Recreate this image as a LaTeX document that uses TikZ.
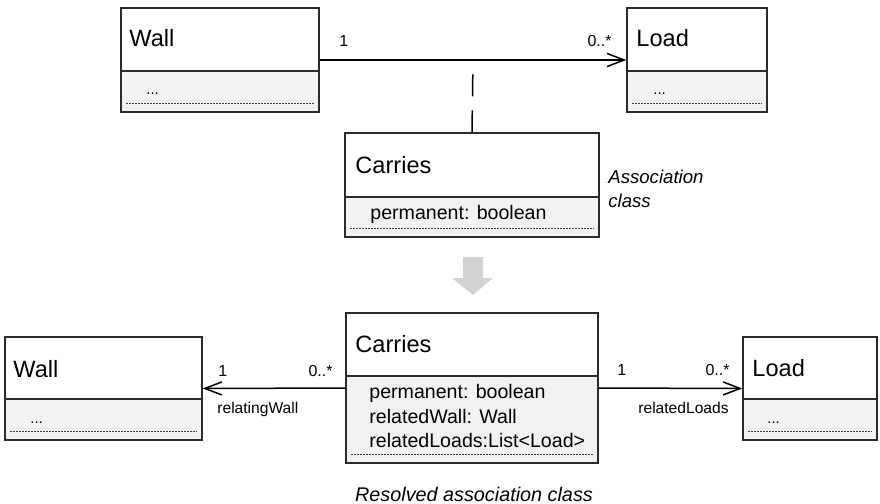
\documentclass[tikz,border=0pt]{standalone}
\usepackage{fontspec}
\setmainfont{Liberation Sans}
\usetikzlibrary{arrows.meta,fit,calc}

\definecolor{edge}{HTML}{2B2B2B}
\definecolor{attrfill}{HTML}{F2F2F2}
\definecolor{blockgray}{HTML}{D3D3D3}

\tikzset{
  boxline/.style={draw=edge, line width=0.75pt},
  classbox/.style={boxline, inner sep=0pt, fit={#1}},
  dotrule/.style={draw=black!75, line width=0.5pt, dash pattern=on 1pt off 0.5pt},
  assoc/.style={draw=black, line width=0.75pt},
  navtip/.style={-{Straight Barb[length=8.5pt,width=6.5pt]}},
  txt/.style={inner sep=0pt, anchor=base west},
  clsname/.style={txt, font=\fontsize{11.8}{14}\selectfont},
  attr/.style={txt, font=\fontsize{9.8}{12}\selectfont},
  dots/.style={txt, font=\fontsize{7.5}{9}\selectfont},
  mult/.style={inner sep=0pt, font=\fontsize{8}{10}\selectfont},
  role/.style={inner sep=0pt, font=\fontsize{7.8}{10}\selectfont},
  note/.style={inner sep=0pt, font=\itshape\fontsize{9.3}{12}\selectfont},
}

% UML class: name, left, top, right, bottom, compartment divider
\newcommand{\umlclass}[6]{%
  \fill[white] (#2,#3) rectangle (#4,#6);
  \fill[attrfill] (#2,#6) rectangle (#4,#5);
  \draw[boxline] (#2,#6) -- (#4,#6);
  \draw[dotrule] (#2+5,#5-9) -- (#4-5,#5-9);
  \node[classbox={(#2,#3) (#4,#5)}] (#1) {};
}

\begin{document}
\begin{tikzpicture}[x=0.5pt, y=-0.5pt]
\useasboundingbox (0,0) rectangle (880,504);

% ---------- association with association class ----------
\umlclass{wallA}{121}{8}{319}{112}{71}
\umlclass{loadA}{627}{8}{767}{112}{71}
\umlclass{carriesA}{345}{133}{599}{237}{197}

\node[clsname] (wallAname) at (129,46.5) {Wall};
\node[dots] (wallAattr) at (146,94) {...};
\node[clsname] (loadAname) at (636,46.5) {Load};
\node[dots] (loadAattr) at (653,94) {...};
\node[clsname] (carriesAname) at (355,173) {Carries};
\node[attr] (carriesAattr) at (370,219) {permanent: boolean};

\draw[assoc, navtip] (wallA.east) -- (loadA.west);
\draw[assoc, dash pattern=on 11pt off 7pt]
  (carriesA.north) -- ($(wallA.east)!0.5!(loadA.west)$);
\node[mult, anchor=base west] (multA1) at (339,46) {1};
\node[mult, anchor=base east] (multA2) at (612,46) {0..*};

\node[note, anchor=base west] (noteA1) at (608,183) {Association};
\node[note, anchor=base west] (noteA2) at (608,207) {class};

% ---------- transformation arrow ----------
\fill[blockgray] (463,257) -- (483,257) -- (483,278) -- (493,278)
  -- (473,295) -- (452,278) -- (463,278) -- cycle;

% ---------- resolved association class ----------
\umlclass{wallB}{5}{337}{202}{440}{399}
\umlclass{loadB}{743}{337}{877}{440}{399}
\umlclass{carriesB}{346}{313}{598}{463}{376}

\node[clsname] (wallBname) at (13,377) {Wall};
\node[dots] (wallBattr) at (30,423) {...};
\node[clsname] (loadBname) at (752,376) {Load};
\node[dots] (loadBattr) at (767,423) {...};
\node[clsname] (carriesBname) at (355,352) {Carries};
\node[attr] (carriesBattr1) at (369,398) {permanent: boolean};
\node[attr] (carriesBattr2) at (369,423) {relatedWall: Wall};
\node[attr] (carriesBattr3) at (369,447) {relatedLoads:List<Load>};

\draw[assoc, navtip] (carriesB.west) -- (wallB.east);
\draw[assoc, navtip] (carriesB.east) -- (loadB.west);

\node[mult, anchor=base west] (multB1) at (218,376) {1};
\node[mult, anchor=base east] (multB2) at (333,376) {0..*};
\node[role, anchor=base west] (roleB1) at (217,413) {relatingWall};
\node[mult, anchor=base west] (multB3) at (617,375) {1};
\node[mult, anchor=base east] (multB4) at (730,375) {0..*};
\node[role, anchor=base east] (roleB2) at (729,413) {relatedLoads};

\node[note, font=\itshape\fontsize{9.9}{12}\selectfont, anchor=base]
  (noteB) at (474,501) {Resolved association class};
\end{tikzpicture}
\end{document}
